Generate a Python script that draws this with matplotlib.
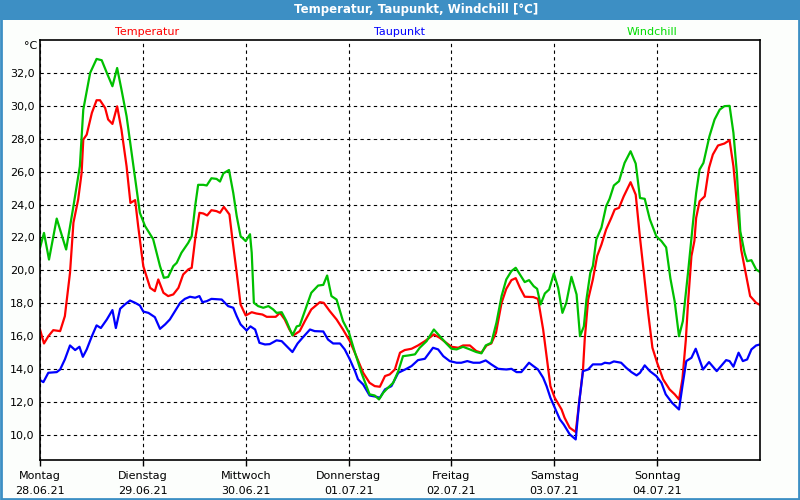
import matplotlib
matplotlib.use("Agg")
import matplotlib.pyplot as plt
from matplotlib.patches import Rectangle

# hours since Montag 28.06.21 00:00
temp_h = [0, 0.93, 1.94, 3.1, 4.7, 5.8, 7.0, 7.8, 8.9, 9.7, 10.1, 10.9, 12.1, 13.2, 14.0,
          15.2, 15.9, 16.9, 18.0, 19.0, 20.2, 21.1, 22.2, 22.9, 24.1, 25.7, 26.8, 27.6,
          28.8, 29.9, 31.1, 32.3, 33.4, 34.6, 35.4, 36.2, 37.2, 38.1, 39.0, 40.0, 41.2,
          42.0, 42.9, 44.2, 44.9, 45.9, 46.8, 48.0, 49.4, 50.5, 51.9, 52.9, 55.0, 56.0,
          57.1, 58.2, 59.1, 60.6, 61.8, 63.3, 65.3, 66.2, 67.6, 69.2, 70.7, 72.3, 73.8,
          75.4, 76.9, 78.1, 79.3, 80.5, 81.6, 82.8, 84.0, 85.1, 86.7, 88.2, 89.8, 91.9,
          93.3, 94.8, 96.0, 97.6, 98.7, 100.3, 101.8, 103.0, 104.2, 105.3, 106.4, 107.7,
          108.8, 110.0, 111.0, 112.0, 113.1, 115.1, 116.2, 117.4, 118.3, 119.1, 120.1,
          121.7, 122.4, 123.6, 125.0, 125.8, 126.7, 127.1, 127.9, 129.0, 130.0, 131.0,
          132.1, 133.3, 134.1, 135.1, 136.2, 137.8, 139.0, 140.0, 140.9, 141.9, 142.9,
          144.0, 145.4, 146.9, 148.1, 149.1, 149.9, 150.7, 151.2, 152.0, 152.7, 153.1,
          153.9, 155.1, 156.1, 157.0, 158.2, 159.7, 160.9, 161.8, 162.8, 163.6, 164.8,
          165.7, 167.1, 168.0]
temperatur = [16.41, 15.56, 16.0, 16.37, 16.31, 17.22, 19.85, 22.9, 24.3, 25.9, 27.95, 28.25,
              29.57, 30.34, 30.34, 29.87, 29.17, 28.9, 29.97, 28.56, 26.33, 24.1, 24.27, 22.7,
              20.26, 18.94, 18.74, 19.45, 18.64, 18.44, 18.54, 18.94, 19.75, 20.06, 20.16,
              21.88, 23.5, 23.46, 23.34, 23.66, 23.6, 23.5, 23.86, 23.4, 21.88, 19.85, 17.93,
              17.26, 17.46, 17.38, 17.32, 17.18, 17.18, 17.42, 17.02, 16.41, 16.05, 16.31,
              16.92, 17.63, 18.07, 18.03, 17.53, 17.02, 16.41, 15.7, 14.79, 13.78, 13.17,
              12.97, 12.93, 13.58, 13.68, 13.98, 15.0, 15.16, 15.24, 15.44, 15.7, 16.11,
              15.9, 15.6, 15.36, 15.3, 15.44, 15.44, 15.1, 15.0, 15.44, 15.56, 16.21, 18.03,
              18.88, 19.41, 19.53, 18.94, 18.4, 18.38, 18.27, 16.41, 14.59, 12.97, 12.26,
              11.55, 11.05, 10.44, 10.18, 11.96, 13.98, 15.8, 18.23, 19.45, 20.87, 21.57,
              22.49, 23.19, 23.7, 23.8, 24.5, 25.36, 24.6, 21.98, 19.85, 17.42, 15.3,
              14.39, 13.38, 12.77, 12.47, 12.16, 13.4, 15.8, 18.0, 20.87, 21.8, 23.19,
              24.2, 24.5, 26.23, 27.04, 27.59, 27.71, 27.91, 26.33, 23.5, 21.27, 19.65,
              18.44, 18.03, 17.9]

taup_h = [0, 0.78, 1.94, 3.9, 4.7, 5.8, 7.0, 8.2, 9.2, 10.0, 10.9, 12.1, 13.2, 14.2, 15.6,
          16.9, 17.7, 18.7, 19.8, 21.0, 22.2, 23.3, 24.1, 25.3, 26.8, 28.0, 29.2, 30.3,
          31.5, 32.7, 33.8, 35.0, 36.2, 37.2, 37.9, 38.9, 40.0, 42.4, 43.9, 45.1, 45.9,
          46.8, 48.2, 49.1, 50.2, 51.2, 52.5, 53.6, 55.2, 56.4, 57.9, 58.9, 60.1, 61.4,
          63.0, 64.1, 66.1, 67.2, 68.4, 70.0, 71.1, 72.3, 73.5, 74.2, 75.4, 76.9, 78.5,
          79.3, 80.5, 82.0, 83.6, 85.5, 86.7, 88.2, 89.8, 91.7, 92.9, 94.1, 95.6, 97.2,
          98.3, 99.7, 101.1, 102.6, 104.0, 105.3, 106.9, 108.8, 110.0, 111.2, 112.3,
          114.1, 115.1, 116.2, 117.4, 118.2, 119.1, 120.1, 121.3, 122.2, 123.6, 125.0,
          125.8, 126.7, 127.9, 129.0, 131.0, 131.8, 132.9, 133.9, 135.6, 136.8, 138.0,
          139.2, 140.0, 141.1, 142.3, 143.8, 145.0, 146.0, 147.5, 149.1, 149.9, 150.8,
          152.0, 153.0, 154.7, 156.1, 157.9, 160.1, 160.9, 161.8, 163.0, 164.0, 165.0,
          166.0, 167.1, 168.0]
taupunkt = [13.34, 13.21, 13.78, 13.82, 13.98, 14.59, 15.44, 15.16, 15.36, 14.75, 15.2, 16.0,
            16.66, 16.5, 17.02, 17.59, 16.5, 17.67, 17.93, 18.17, 18.03, 17.87, 17.5, 17.42,
            17.16, 16.45, 16.72, 17.02, 17.53, 18.03, 18.27, 18.4, 18.34, 18.44, 18.07,
            18.13, 18.27, 18.23, 17.83, 17.73, 17.22, 16.72, 16.35, 16.6, 16.41, 15.6, 15.5,
            15.52, 15.75, 15.7, 15.3, 15.04, 15.56, 15.95, 16.41, 16.31, 16.29, 15.8, 15.56,
            15.56, 15.2, 14.59, 13.88, 13.38, 13.07, 12.4, 12.32, 12.26, 12.77, 12.97,
            13.78, 14.02, 14.19, 14.55, 14.63, 15.3, 15.2, 14.79, 14.49, 14.39, 14.39,
            14.49, 14.39, 14.39, 14.53, 14.29, 14.02, 13.98, 14.02, 13.82, 13.82, 14.39,
            14.19, 13.98, 13.48, 12.97, 12.26, 11.66, 10.95, 10.64, 10.04, 9.73, 11.96,
            13.88, 13.98, 14.29, 14.29, 14.39, 14.35, 14.47, 14.39, 14.08, 13.82, 13.62,
            13.78, 14.23, 13.88, 13.58, 13.17, 12.47, 11.95, 11.55, 12.97, 14.49, 14.69,
            15.24, 13.98, 14.43, 13.88, 14.55, 14.49, 14.15, 15.0, 14.49, 14.59, 15.2,
            15.44, 15.5]

wind_h = [0, 0.93, 2.1, 3.9, 6.1, 7.8, 9.3, 10.1, 11.7, 13.2, 14.4, 15.6, 16.9, 18.0, 19.0,
          20.2, 21.8, 23.3, 24.5, 26.4, 28.0, 28.9, 29.9, 31.1, 31.9, 33.0, 34.6, 35.4,
          36.2, 36.9, 38.1, 38.9, 40.0, 41.2, 42.0, 42.8, 44.1, 45.1, 45.9, 46.8, 48.0,
          49.0, 49.4, 49.9, 50.9, 52.1, 53.3, 54.4, 55.2, 56.4, 57.5, 58.9, 59.9, 60.6,
          61.8, 63.3, 64.9, 66.1, 67.0, 68.0, 69.2, 70.7, 72.1, 73.5, 75.0, 76.9, 78.1,
          79.1, 80.1, 81.2, 82.4, 83.6, 84.7, 85.9, 87.5, 88.6, 90.2, 91.9, 93.3, 94.8,
          96.0, 97.2, 98.7, 100.3, 101.8, 103.0, 104.0, 105.3, 106.5, 107.7, 108.8, 110.0,
          111.0, 112.0, 113.1, 114.1, 115.2, 116.0, 116.8, 117.8, 118.8, 119.9, 120.9,
          121.9, 122.8, 124.0, 125.2, 126.0, 126.9, 127.5, 128.4, 129.0, 129.8, 131.0,
          132.1, 132.9, 133.9, 135.1, 136.4, 137.8, 139.0, 140.0, 141.1, 142.3, 143.8,
          145.0, 146.1, 147.1, 148.1, 149.1, 150.0, 151.2, 152.4, 153.1, 153.9, 154.8,
          156.2, 157.4, 158.6, 159.7, 160.9, 161.8, 162.6, 163.4, 164.4, 165.0, 166.0,
          167.1, 168.0]
windchill = [21.37, 22.28, 20.66, 23.15, 21.27, 23.9, 26.33, 29.77, 32.0, 32.85, 32.77, 32.0,
             31.19, 32.3, 31.0, 29.37, 26.33, 23.5, 22.7, 21.9, 20.26, 19.55, 19.6, 20.26,
             20.46, 21.07, 21.68, 22.08, 23.9, 25.2, 25.2, 25.16, 25.6, 25.56, 25.4, 25.9,
             26.1, 24.7, 23.3, 22.08, 21.78, 22.2, 21.07, 18.03, 17.83, 17.73, 17.83, 17.63,
             17.42, 17.46, 16.92, 16.05, 16.6, 16.65, 17.53, 18.64, 19.08, 19.12, 19.69,
             18.44, 18.23, 16.92, 16.21, 15.0, 13.78, 12.47, 12.4, 12.16, 12.57, 12.87,
             13.17, 13.88, 14.79, 14.83, 14.9, 15.3, 15.7, 16.41, 16.0, 15.56, 15.24, 15.2,
             15.36, 15.2, 15.04, 14.96, 15.44, 15.6, 16.82, 18.44, 19.45, 19.96, 20.16,
             19.75, 19.29, 19.41, 19.04, 18.88, 17.93, 18.6, 18.84, 19.81, 18.94, 17.42,
             18.03, 19.61, 18.54, 16.0, 16.6, 18.23, 19.85, 20.26, 21.88, 22.6, 23.9, 24.35,
             25.16, 25.42, 26.53, 27.24, 26.49, 24.4, 24.35, 23.1, 22.08, 21.78, 21.4, 19.5,
             18.1, 16.0, 16.92, 19.85, 23.0, 24.7, 26.13, 26.53, 28.15, 29.17, 29.77, 29.98,
             30.0, 28.36, 25.93, 22.38, 21.07, 20.56, 20.62, 20.06, 19.9]

day_ticks = [0, 24, 48, 72, 96, 120, 144]
day_labels = ["Montag\n28.06.21", "Dienstag\n29.06.21", "Mittwoch\n30.06.21",
              "Donnerstag\n01.07.21", "Freitag\n02.07.21", "Samstag\n03.07.21",
              "Sonntag\n04.07.21"]
y_ticks = [10, 12, 14, 16, 18, 20, 22, 24, 26, 28, 30, 32]

bar_blue = "#3d8fc4"
plt.rcParams["font.family"] = "DejaVu Sans"

fig = plt.figure(figsize=(8, 5), dpi=100, facecolor="#fcfefc")
ax = fig.add_axes([0.05, 0.08, 0.90, 0.84])

ax.plot(temp_h, temperatur, color="#ff0000", lw=1.6)
ax.plot(taup_h, taupunkt, color="#0000ff", lw=1.6)
ax.plot(wind_h, windchill, color="#00c000", lw=1.6)

ax.set_xlim(0, 168)
ax.set_ylim(8.48, 34.0)
ax.set_xticks(day_ticks)
ax.set_xticklabels(day_labels, fontsize=8, linespacing=1.55)
ax.set_yticks(y_ticks)
ax.set_yticklabels([f"{v:.1f}".replace(".", ",") for v in y_ticks], fontsize=8)
ax.tick_params(axis="x", length=4, width=1, pad=4, direction="out")
ax.tick_params(axis="y", length=0, pad=4)
ax.grid(True, color="black", linestyle=(0, (3, 3)), linewidth=0.8)
for s in ax.spines.values():
    s.set_linewidth(1.2)

# title bar and window frame
fig.patches.append(Rectangle((0, 0.96), 1, 0.04, transform=fig.transFigure,
                             facecolor=bar_blue, edgecolor="none", zorder=0))
fig.patches.append(Rectangle((0.001, 0.002), 0.998, 0.997, transform=fig.transFigure,
                             facecolor="none", edgecolor=bar_blue, linewidth=2, zorder=5))
fig.text(0.52, 0.98, "Temperatur, Taupunkt, Windchill [°C]", ha="center", va="center",
         color="white", fontsize=8.5, fontweight="bold")

fig.text(0.184, 0.936, "Temperatur", ha="center", va="center", color="#ff0000", fontsize=8)
fig.text(0.499, 0.936, "Taupunkt", ha="center", va="center", color="#0000ff", fontsize=8)
fig.text(0.815, 0.936, "Windchill", ha="center", va="center", color="#00dd00", fontsize=8)
fig.text(0.046, 0.908, "°C", ha="right", va="center", fontsize=8)

fig.savefig("out.png", dpi=100, facecolor=fig.get_facecolor())
